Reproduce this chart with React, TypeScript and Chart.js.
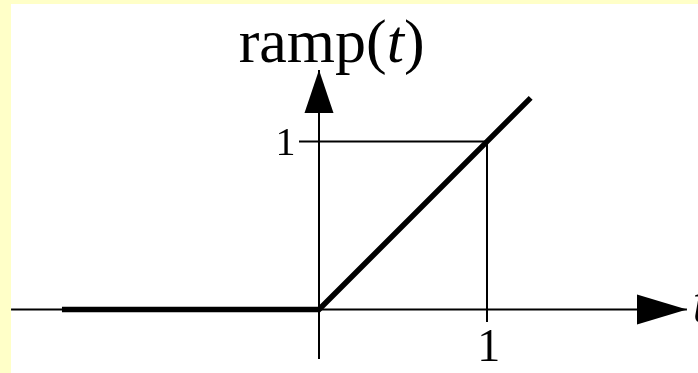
import React, { useEffect, useRef } from "react";
import { Chart, registerables } from "chart.js";

Chart.register(...registerables);

// ramp(t) = 0 for t < 0, t for t >= 0
const rampT = [-1.53, 0, 1.26];
const rampV = [0, 0, 1.26];

// axes extents (data units)
const hAxisT = [-1.833, 2.19];
const vAxisV = [-0.295, 1.426];

// guide lines to the point (1, 1)
const guideHT = [-0.119, 1];
const guideHV = [1, 1];
const guideVT = [1, 1];
const guideVV = [1, -0.074];

// tick labels
const tickLabels = ["1", "1"];
const yLabel = ["ramp(", "t", ")"];
const xLabel = "t";

const X_MIN = -319 / 168;
const X_MAX = 379 / 168;
const Y_MAX = 309.5 / 168;
const Y_MIN = -63.5 / 168;

const toPts = (xs: number[], ys: number[]) => xs.map((x, i) => ({ x, y: ys[i] }));

const FONT = "'Liberation Serif', 'Times New Roman', serif";

const decorPlugin = {
  id: "decor",
  beforeDraw(chart: any) {
    const ctx = chart.ctx;
    ctx.save();
    ctx.fillStyle = "#FFFFC8";
    ctx.fillRect(0, 0, chart.width, chart.height);
    ctx.fillStyle = "#FFFFFF";
    ctx.fillRect(11, 4, chart.width - 11, chart.height - 4);
    ctx.restore();
  },
  afterDatasetsDraw(chart: any) {
    const ctx = chart.ctx;
    const xs = chart.scales.x;
    const ys = chart.scales.y;
    ctx.save();
    ctx.fillStyle = "#000";
    // up arrow on vertical axis
    const ax = xs.getPixelForValue(0);
    const tipY = ys.getPixelForValue(vAxisV[1]);
    const baseY = ys.getPixelForValue(1.17);
    ctx.beginPath();
    ctx.moveTo(ax, tipY);
    ctx.lineTo(ax + 14.5, baseY);
    ctx.lineTo(ax - 14.5, baseY);
    ctx.closePath();
    ctx.fill();
    // right arrow on horizontal axis
    const ay = ys.getPixelForValue(0);
    const tipX = xs.getPixelForValue(hAxisT[1]);
    const baseX = xs.getPixelForValue(1.893);
    ctx.beginPath();
    ctx.moveTo(tipX, ay);
    ctx.lineTo(baseX, ay - 15);
    ctx.lineTo(baseX, ay + 15);
    ctx.closePath();
    ctx.fill();

    // y-axis label "ramp(t)"
    ctx.textBaseline = "alphabetic";
    ctx.textAlign = "left";
    const regular = `62px ${FONT}`;
    const italic = `italic 62px ${FONT}`;
    ctx.font = regular;
    const w1 = ctx.measureText(yLabel[0]).width;
    const w3 = ctx.measureText(yLabel[2]).width;
    ctx.font = italic;
    const w2 = ctx.measureText(yLabel[1]).width;
    const total = w1 + w2 + w3;
    const cx = xs.getPixelForValue(0.075);
    const by = ys.getPixelForValue(1.473);
    let x0 = cx - total / 2;
    ctx.font = regular;
    ctx.fillText(yLabel[0], x0, by);
    x0 += w1;
    ctx.font = italic;
    ctx.fillText(yLabel[1], x0, by);
    x0 += w2;
    ctx.font = regular;
    ctx.fillText(yLabel[2], x0, by);

    // tick label on y axis
    ctx.textAlign = "center";
    ctx.font = `40px ${FONT}`;
    ctx.fillText(tickLabels[0], xs.getPixelForValue(-0.2), ys.getPixelForValue(1) + 13);
    // tick label on x axis
    ctx.font = `46px ${FONT}`;
    ctx.fillText(tickLabels[1], xs.getPixelForValue(1.01), ys.getPixelForValue(-0.307));

    // x-axis label "t" (cut off by the right edge, as in the reference)
    ctx.textAlign = "left";
    ctx.font = `italic 62px ${FONT}`;
    ctx.fillText(xLabel, xs.getPixelForValue(2.222), ys.getPixelForValue(-0.075));
    ctx.restore();
  },
};

export default function App() {
  const ref = useRef<HTMLCanvasElement | null>(null);
  useEffect(() => {
    if (!ref.current) return;
    const thin = {
      showLine: true,
      borderColor: "#000",
      borderWidth: 2,
      pointRadius: 0,
      borderCapStyle: "butt" as const,
      fill: false,
      clip: false as any,
    };
    const chart = new Chart(ref.current, {
      type: "scatter",
      data: {
        datasets: [
          { ...thin, label: "t axis", data: toPts(hAxisT, [0, 0]) },
          { ...thin, label: "ramp axis", data: toPts([0, 0], vAxisV) },
          { ...thin, label: "guide h", data: toPts(guideHT, guideHV) },
          { ...thin, label: "guide v", data: toPts(guideVT, guideVV) },
          {
            label: "ramp(t)",
            data: toPts(rampT, rampV),
            showLine: true,
            borderColor: "#000",
            borderWidth: 5.5,
            pointRadius: 0,
            borderCapStyle: "butt",
            borderJoinStyle: "miter",
            fill: false,
            clip: false as any,
          },
        ],
      },
      options: {
        animation: false,
        responsive: false,
        events: [],
        layout: { padding: 0 },
        plugins: { legend: { display: false }, tooltip: { enabled: false } },
        scales: {
          x: { type: "linear", min: X_MIN, max: X_MAX, display: false },
          y: { type: "linear", min: Y_MIN, max: Y_MAX, display: false },
        },
      },
      plugins: [decorPlugin],
    });
    return () => chart.destroy();
  }, []);
  return (
    <div style={{ position: "fixed", left: 0, top: 0, width: 698, height: 373 }}>
      <canvas ref={ref} width={698} height={373} style={{ display: "block" }} />
    </div>
  );
}
